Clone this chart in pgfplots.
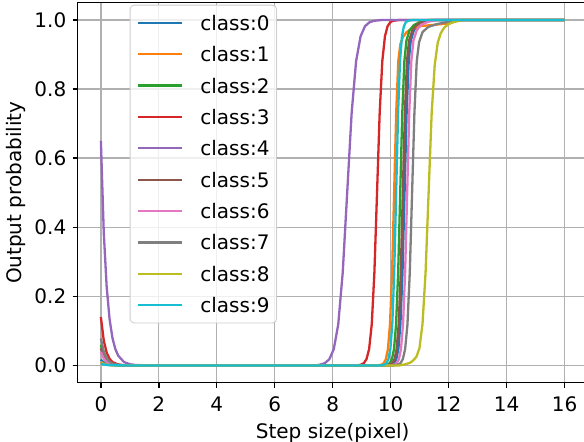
\documentclass[border=0pt]{standalone}
\usepackage{pgfplots}
\pgfplotsset{compat=1.18}
\usepackage{fontspec}
\setmainfont{DejaVu Sans}
\definecolor{c0}{HTML}{1F77B4}
\definecolor{c1}{HTML}{FF7F0E}
\definecolor{c2}{HTML}{2CA02C}
\definecolor{c3}{HTML}{D62728}
\definecolor{c4}{HTML}{9467BD}
\definecolor{c5}{HTML}{8C564B}
\definecolor{c6}{HTML}{E377C2}
\definecolor{c7}{HTML}{7F7F7F}
\definecolor{c8}{HTML}{BCBD22}
\definecolor{c9}{HTML}{17BECF}
\begin{document}
\begin{tikzpicture}
\begin{axis}[
  at={(0,0)}, anchor=south west,
  scale only axis, width=255pt, height=190pt,
  xmin=-0.8, xmax=16.8, ymin=-0.05, ymax=1.05,
  xtick={0,2,4,6,8,10,12,14,16},
  ytick={0,0.2,0.4,0.6,0.8,1.0},
  grid=major, grid style={color=black!31, line width=0.65pt},
  axis line style={line width=0.7pt},
  tick align=outside, tick pos=left, major tick length=2.5pt,
  tick style={black, line width=0.7pt},
  /pgf/number format/assume math mode=true,
  yticklabel style={/pgf/number format/fixed, /pgf/number format/fixed zerofill, /pgf/number format/precision=1, inner sep=0pt, anchor=east, xshift=-3pt},
  tick label style={font=\fontsize{10}{12}\selectfont},
  xticklabel style={inner sep=0pt, anchor=north, yshift=-4.5pt},
  every axis x label/.style={at={(axis description cs:0.5,0)}, anchor=north, inner sep=0pt, yshift=-20.15pt, font=\fontsize{10}{12}\selectfont},
  every axis y label/.style={at={(axis description cs:-0.1216,0.5)}, rotate=90, anchor=center, inner sep=0pt, font=\fontsize{10}{12}\selectfont},
  xlabel={Step size(pixel)}, ylabel={Output probability},
  legend cell align=left,
  legend image code/.code={\draw[#1] (0pt,0pt) -- (22pt,0pt);},
  legend style={at={(axis description cs:0.102,0.9947)}, anchor=north west,
    draw=black!20, rounded corners=2pt, fill=white, fill opacity=0.8, draw opacity=1, text opacity=1,
    inner xsep=3.5pt, inner ysep=3.9pt, row sep=5.68pt, column sep=8.5pt,
    nodes={inner sep=0pt, text height=8.75pt, text depth=1.25pt},
    font=\fontsize{10}{12}\selectfont},
  every axis plot/.append style={line width=1.15pt, no marks},
]
\addplot[color=c0] coordinates {(0,0.017) (0.1,0.0087) (0.2,0.0045) (0.3,0.0023) (0.4,0.0012) (0.6,0.0003) (1.0,0) (9.9,0) (10.051,0.0025) (10.123,0.0067) (10.194,0.018) (10.266,0.0474) (10.337,0.1192) (10.409,0.2689) (10.48,0.5) (10.551,0.7311) (10.623,0.88) (10.694,0.94) (10.8,0.97) (10.95,0.986) (11.2,0.995) (11.5,1) (16,1)};
\addlegendentry{class:0}
\addplot[color=c1] coordinates {(0,0.01) (0.1,0.005) (0.2,0.0026) (0.3,0.0014) (0.4,0.0007) (0.6,0.0002) (1.0,0) (9.55,0) (9.691,0.0025) (9.763,0.0067) (9.834,0.018) (9.906,0.0474) (9.977,0.1192) (10.049,0.2689) (10.12,0.5) (10.191,0.7311) (10.263,0.8808) (10.334,0.93) (10.42,0.95) (10.55,0.965) (10.75,0.975) (11.0,0.982) (11.5,0.986) (12.0,0.99) (12.3,0.997) (12.5,1) (16,1)};
\addlegendentry{class:1}
\addplot[color=c2] coordinates {(0,0.06) (0.1,0.031) (0.2,0.016) (0.3,0.008) (0.4,0.004) (0.6,0.001) (1.0,0) (9.75,0) (9.902,0.0025) (9.973,0.0067) (10.044,0.018) (10.116,0.0474) (10.187,0.1192) (10.259,0.2689) (10.33,0.5) (10.401,0.7311) (10.473,0.88) (10.544,0.94) (10.65,0.97) (10.8,0.985) (11.0,0.994) (11.3,1) (16,1)};
\addlegendentry{class:2}
\addplot[color=c3] coordinates {(0,0.14) (0.1,0.072) (0.2,0.037) (0.3,0.019) (0.4,0.0097) (0.6,0.0026) (0.8,0.0007) (1.0,0) (8.85,0) (8.985,0.0025) (9.075,0.0067) (9.166,0.018) (9.257,0.0474) (9.348,0.1192) (9.439,0.2689) (9.53,0.5) (9.621,0.7311) (9.712,0.8808) (9.803,0.9526) (9.894,0.982) (9.985,0.9933) (10.075,0.9975) (10.3,1) (16,1)};
\addlegendentry{class:3}
\addplot[color=c4] coordinates {(0,0.65) (0.1,0.384) (0.2,0.227) (0.3,0.134) (0.4,0.079) (0.5,0.047) (0.6,0.028) (0.8,0.0096) (1.0,0.0034) (1.2,0.0012) (1.5,0.0003) (2.0,0) (7.4,0) (7.577,0.0025) (7.731,0.0067) (7.885,0.018) (8.038,0.0474) (8.192,0.1192) (8.346,0.2689) (8.5,0.5) (8.654,0.7311) (8.808,0.8808) (8.962,0.9526) (9.115,0.982) (9.269,0.9933) (9.423,0.9975) (9.7,1) (16,1)};
\addlegendentry{class:4}
\addplot[color=c5] coordinates {(0,0.05) (0.1,0.026) (0.2,0.013) (0.3,0.007) (0.4,0.0035) (0.6,0.0009) (1.0,0) (9.85,0) (9.992,0.0025) (10.063,0.0067) (10.134,0.018) (10.206,0.0474) (10.277,0.1192) (10.349,0.2689) (10.42,0.5) (10.491,0.7311) (10.563,0.8808) (10.634,0.94) (10.75,0.97) (10.9,0.986) (11.1,0.995) (11.4,1) (16,1)};
\addlegendentry{class:5}
\addplot[color=c6] coordinates {(0,0.039) (0.1,0.02) (0.2,0.01) (0.3,0.005) (0.4,0.0027) (0.6,0.0007) (1.0,0) (10.0,0) (10.141,0.0025) (10.213,0.0067) (10.284,0.018) (10.356,0.0474) (10.427,0.1192) (10.499,0.2689) (10.57,0.5) (10.641,0.7311) (10.713,0.88) (10.784,0.94) (10.9,0.97) (11.05,0.986) (11.3,0.995) (11.6,1) (16,1)};
\addlegendentry{class:6}
\addplot[color=c7] coordinates {(0,0.078) (0.1,0.04) (0.2,0.021) (0.3,0.011) (0.4,0.0054) (0.6,0.0014) (0.8,0.0004) (1.0,0) (10.1,0) (10.26,0.0025) (10.34,0.0067) (10.42,0.018) (10.50,0.0474) (10.58,0.1192) (10.66,0.2689) (10.74,0.5) (10.82,0.7311) (10.90,0.88) (10.98,0.935) (11.1,0.965) (11.3,0.98) (11.6,0.988) (12.0,0.995) (12.4,1) (16,1)};
\addlegendentry{class:7}
\addplot[color=c8] coordinates {(0,0.008) (0.1,0.004) (0.2,0.002) (0.3,0.001) (0.4,0.0006) (0.6,0.0001) (1.0,0) (10.3,0) (10.5,0.003) (10.678,0.008) (10.784,0.015) (10.889,0.025) (10.994,0.05) (11.099,0.12) (11.205,0.2689) (11.31,0.5) (11.415,0.73) (11.521,0.87) (11.626,0.935) (11.731,0.962) (11.85,0.978) (12.0,0.988) (12.2,0.995) (12.5,1) (16,1)};
\addlegendentry{class:8}
\addplot[color=c9] coordinates {(0,0.005) (0.1,0.0026) (0.2,0.0013) (0.3,0.0007) (0.4,0.0003) (0.6,0.0001) (1.0,0) (9.65,0) (9.79,0.0025) (9.857,0.0067) (9.923,0.018) (9.99,0.0474) (10.057,0.1192) (10.123,0.2689) (10.19,0.5) (10.257,0.7311) (10.323,0.8808) (10.39,0.9526) (10.457,0.982) (10.523,0.9933) (10.59,0.9975) (10.75,1) (16,1)};
\addlegendentry{class:9}
\end{axis}
\pgfresetboundingbox
\path[use as bounding box] (-38.85pt,-29.65pt) rectangle (253.15pt,191.35pt);
\end{tikzpicture}
\end{document}
